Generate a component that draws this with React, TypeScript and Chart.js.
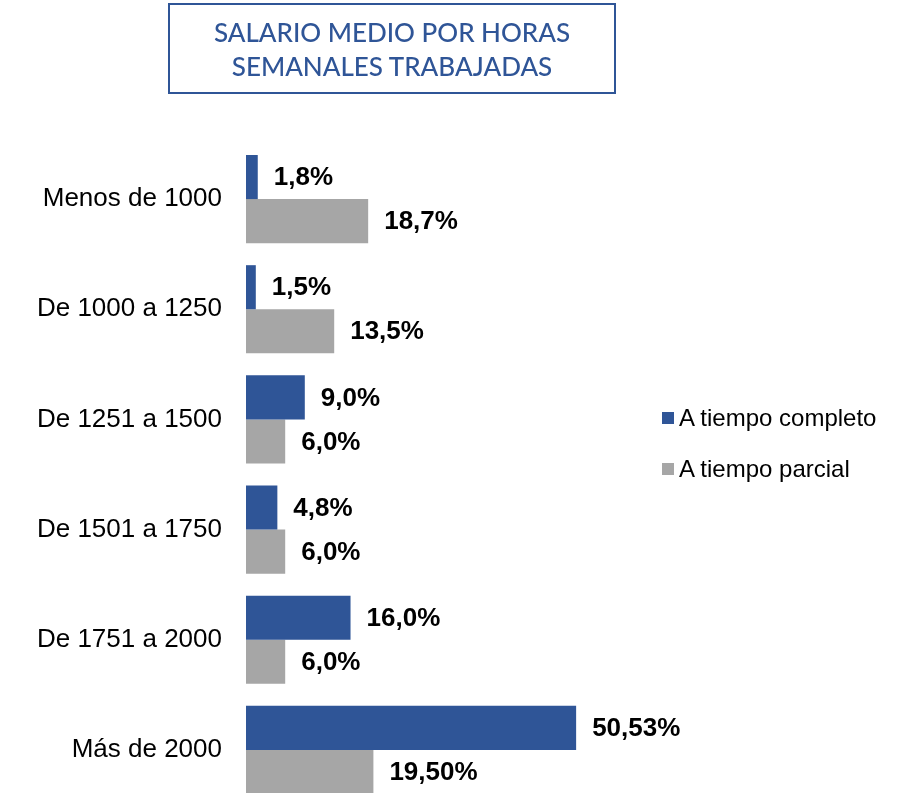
import React, { useEffect, useRef } from "react";
import { Chart, registerables } from "chart.js";

Chart.register(...registerables);

const categories = [
  "Menos de 1000",
  "De 1000 a 1250",
  "De 1251 a 1500",
  "De 1501 a 1750",
  "De 1751 a 2000",
  "Más de 2000",
];
const fullTime = [1.8, 1.5, 9.0, 4.8, 16.0, 50.53];
const partTime = [18.7, 13.5, 6.0, 6.0, 6.0, 19.5];
const fullTimeLabels = ["1,8%", "1,5%", "9,0%", "4,8%", "16,0%", "50,53%"];
const partTimeLabels = ["18,7%", "13,5%", "6,0%", "6,0%", "6,0%", "19,50%"];
const seriesNames = ["A tiempo completo", "A tiempo parcial"];
const titleLines = ["SALARIO MEDIO POR HORAS", "SEMANALES TRABAJADAS"];

const BLUE = "#2F5597";
const GREY = "#A6A6A6";
const FONT = "'Liberation Sans', Arial, sans-serif";

const valueLabelPlugin = {
  id: "valueLabels",
  afterDatasetsDraw(chart: any) {
    const ctx = chart.ctx;
    const labelSets = [fullTimeLabels, partTimeLabels];
    ctx.save();
    ctx.font = `bold 26px ${FONT}`;
    ctx.fillStyle = "#000000";
    ctx.textAlign = "left";
    ctx.textBaseline = "middle";
    chart.data.datasets.forEach((_: any, di: number) => {
      const meta = chart.getDatasetMeta(di);
      meta.data.forEach((bar: any, i: number) => {
        ctx.fillText(labelSets[di][i], bar.x + 16, bar.y + 1);
      });
    });
    ctx.restore();
  },
};

export default function App() {
  const canvasRef = useRef<HTMLCanvasElement | null>(null);

  useEffect(() => {
    const canvas = canvasRef.current;
    if (!canvas) return;
    const chart = new Chart(canvas, {
      type: "bar",
      data: {
        labels: categories,
        datasets: [
          {
            label: seriesNames[0],
            data: fullTime,
            backgroundColor: BLUE,
            categoryPercentage: 0.8,
            barPercentage: 1.0,
          },
          {
            label: seriesNames[1],
            data: partTime,
            backgroundColor: GREY,
            categoryPercentage: 0.8,
            barPercentage: 1.0,
          },
        ],
      },
      options: {
        indexAxis: "y",
        animation: false,
        responsive: true,
        maintainAspectRatio: false,
        devicePixelRatio: 1,
        layout: { padding: { top: 144, bottom: 6, left: 0, right: 266 } },
        plugins: {
          legend: { display: false },
          title: { display: false },
          tooltip: { enabled: false },
        },
        scales: {
          x: { display: false, min: 0, max: 60 },
          y: {
            grid: { display: false, drawTicks: false },
            border: { display: false },
            ticks: {
              padding: 24,
              color: "#000000",
              font: { family: FONT, size: 26 },
            },
            afterFit(scale: any) {
              scale.width = 246;
              scale.paddingTop = 0;
              scale.paddingBottom = 0;
            },
          },
        },
      },
      plugins: [valueLabelPlugin],
    } as any);
    return () => chart.destroy();
  }, []);

  return (
    <div
      style={{
        position: "fixed",
        left: 0,
        top: 0,
        width: 904,
        height: 793,
        overflow: "hidden",
        background: "#ffffff",
      }}
    >
      <div
        style={{
          position: "absolute",
          left: 0,
          top: 0,
          width: 904,
          height: 811,
        }}
      >
        <canvas ref={canvasRef} />
      </div>
      <div
        style={{
          position: "absolute",
          left: 168,
          top: 3,
          width: 448,
          height: 91,
          boxSizing: "border-box",
          border: `2px solid ${BLUE}`,
          display: "flex",
          flexDirection: "column",
          alignItems: "center",
          justifyContent: "center",
          color: BLUE,
          fontFamily: "Lato, 'Open Sans', sans-serif",
          fontWeight: 500,
          fontSize: 26,
          lineHeight: "34px",
          textAlign: "center",
        }}
      >
        {titleLines.map((t) => (
          <div key={t}>{t}</div>
        ))}
      </div>
      {seriesNames.map((name, i) => (
        <div
          key={name}
          style={{
            position: "absolute",
            left: 662,
            top: 404 + i * 51,
            height: 28,
            display: "flex",
            alignItems: "center",
            fontFamily: FONT,
            fontSize: 24,
            color: "#000000",
            whiteSpace: "nowrap",
          }}
        >
          <span
            style={{
              display: "inline-block",
              width: 12,
              height: 12,
              background: i === 0 ? BLUE : GREY,
              marginRight: 5,
            }}
          />
          {name}
        </div>
      ))}
    </div>
  );
}
